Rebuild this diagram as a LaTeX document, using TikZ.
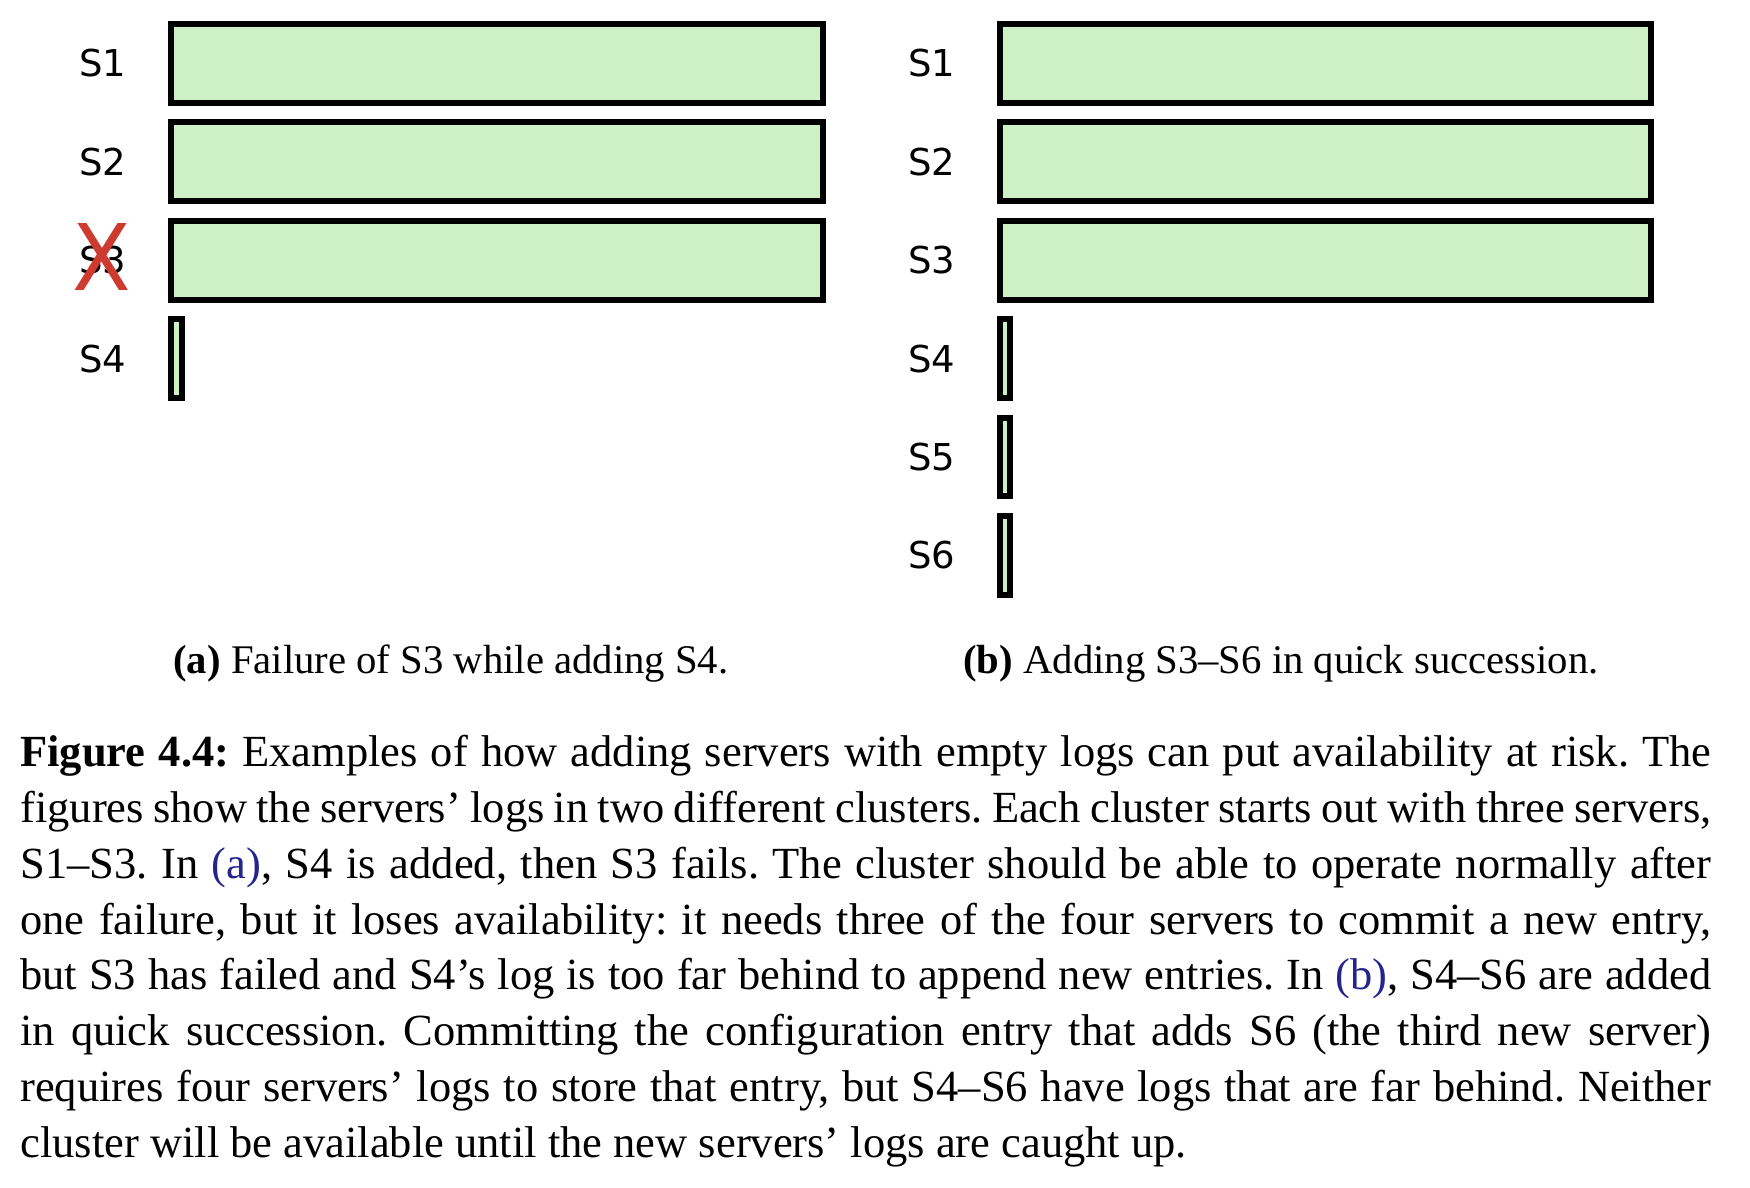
\documentclass[tikz,border=0pt]{standalone}
\usepackage{fontspec}
\setmainfont{Liberation Serif}
\newfontfamily\srvfont{DejaVu Sans}
\definecolor{logfill}{RGB}{205,240,196}
\definecolor{failred}{RGB}{204,58,48}
\definecolor{linkblue}{RGB}{36,36,140}
% one justified caption line of fixed width
\newcommand\jline[1]{\makebox[845.5pt][s]{#1}}
\frenchspacing
\begin{document}
\begin{tikzpicture}[x=0.5pt,y=-0.5pt,
  logbox/.style={draw=black, line width=3pt, fill=logfill, inner sep=0pt,
    outer sep=0pt, minimum height=39.35pt},
  fulllog/.style={logbox, minimum width=325.7pt},
  emptylog/.style={logbox, minimum width=5.35pt},
  srv/.style={font=\srvfont\fontsize{18.5}{18.5}\selectfont, inner sep=0pt},
  failmark/.style={font=\srvfont\fontsize{46}{46}\selectfont, text=failred,
    inner sep=0pt, xscale=0.93},
  subcap/.style={anchor=base west, inner sep=0pt,
    font=\fontsize{20.35}{24}\selectfont},
  capline/.style={anchor=base west, inner sep=0pt,
    font=\fontsize{22.25}{27.9}\selectfont}]
\useasboundingbox (0,0) rectangle (1750,1188);

% (a) cluster: S1-S3 full logs, S4 empty, S3 failed
\node[srv] (la1) at (103,63.4) {S1};
\node[srv] (la2) at (103,161.8) {S2};
\node[srv] (la3) at (103,260.2) {S3};
\node[srv] (la4) at (103,358.6) {S4};
\node[fulllog] (a1) at (497,63.4) {};
\node[fulllog] (a2) at (497,161.8) {};
\node[fulllog] (a3) at (497,260.2) {};
\node[emptylog] (a4) at (176.65,358.6) {};
\node[failmark] (ax) at (102.2,257.2) {X};

% (b) cluster: S1-S3 full logs, S4-S6 empty
\node[srv] (lb1) at (932,63.4) {S1};
\node[srv] (lb2) at (932,161.8) {S2};
\node[srv] (lb3) at (932,260.2) {S3};
\node[srv] (lb4) at (932,358.6) {S4};
\node[srv] (lb5) at (932,457) {S5};
\node[srv] (lb6) at (932,555.4) {S6};
\node[fulllog] (b1) at (1325.4,63.4) {};
\node[fulllog] (b2) at (1325.4,161.8) {};
\node[fulllog] (b3) at (1325.4,260.2) {};
\node[emptylog] (b4) at (1005.05,358.6) {};
\node[emptylog] (b5) at (1005.05,457) {};
\node[emptylog] (b6) at (1005.05,555.4) {};

% sub-captions
\node[subcap] (capa) at (173,673) {\textbf{(a)} Failure of S3 while adding S4.};
\node[subcap] (capb) at (963,673) {\textbf{(b)} Adding S3--S6 in quick succession.};

% figure caption
\node[capline] (c1) at (20,766.6) {\jline{\textbf{Figure 4.4:} Examples of how adding servers with empty logs can put availability at risk. The}};
\node[capline] (c2) at (20,822.4) {\jline{figures show the servers’ logs in two different clusters. Each cluster starts out with three servers,}};
\node[capline] (c3) at (20,878.2) {\jline{S1--S3. In \textcolor{linkblue}{(a)}, S4 is added, then S3 fails. The cluster should be able to operate normally after}};
\node[capline] (c4) at (20,934) {\jline{one failure, but it loses availability: it needs three of the four servers to commit a new entry,}};
\node[capline] (c5) at (20,989.8) {\jline{but S3 has failed and S4’s log is too far behind to append new entries. In \textcolor{linkblue}{(b)}, S4--S6 are added}};
\node[capline] (c6) at (20,1045.6) {\jline{in quick succession. Committing the configuration entry that adds S6 (the third new server)}};
\node[capline] (c7) at (20,1101.4) {\jline{requires four servers’ logs to store that entry, but S4--S6 have logs that are far behind. Neither}};
\node[capline] (c8) at (20,1157.2) {cluster will be available until the new servers’ logs are caught up.};
\end{tikzpicture}
\end{document}
